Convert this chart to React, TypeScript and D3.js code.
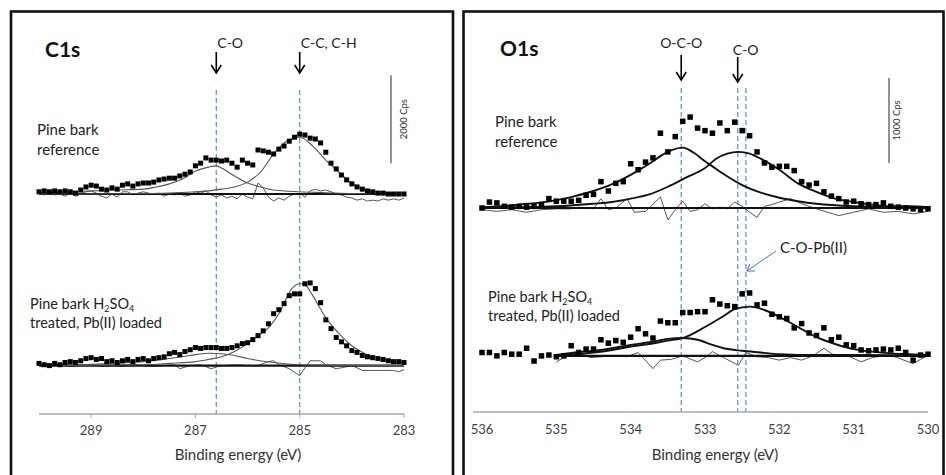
import React from 'react';
import * as d3 from 'd3';

type Pt = [number, number];

// binding energy (eV), intensity above the spectrum baseline (cps)
const c1sRefData: Pt[] = [
  [290.0, 50], [289.9, 70], [289.8, 50], [289.7, 70], [289.6, 50], [289.5, 70], [289.4, 50], [289.3, 20],
  [289.2, 90], [289.1, 160], [289.0, 200], [288.9, 180], [288.8, 110], [288.7, 90], [288.6, 140], [288.5, 110],
  [288.4, 200], [288.3, 230], [288.2, 180], [288.1, 230], [288.0, 250], [287.9, 250], [287.8, 270], [287.7, 320],
  [287.6, 340], [287.5, 360], [287.4, 360], [287.3, 410], [287.2, 450], [287.1, 500], [287.0, 640], [286.9, 700],
  [286.8, 820], [286.7, 770], [286.6, 770], [286.5, 750], [286.4, 770], [286.3, 700], [286.2, 610], [286.1, 770],
  [286.0, 700], [285.9, 660], [285.8, 1000], [285.7, 980], [285.6, 950], [285.5, 910], [285.4, 1020], [285.3, 1090],
  [285.2, 1200], [285.1, 1290], [285.0, 1360], [284.9, 1340], [284.8, 1270], [284.7, 1250], [284.6, 1160], [284.5, 950],
  [284.4, 700], [284.3, 570], [284.2, 430], [284.1, 320], [284.0, 230], [283.9, 160], [283.8, 110], [283.7, 70],
  [283.6, 50], [283.5, 20], [283.4, 20], [283.3, 0], [283.2, 0], [283.1, 0], [283.0, 0],
];
const c1sRefFitCC: Pt[] = [
  [283.0, 10], [283.25, 20], [283.5, 50], [283.75, 110], [284.0, 250], [284.25, 500], [284.5, 770], [284.75, 1090],
  [285.0, 1290], [285.25, 1200], [285.5, 910], [285.75, 500], [286.0, 270], [286.25, 160], [286.5, 110], [286.75, 70],
  [287.0, 50], [287.5, 20], [288.0, 10], [289.0, 0], [290.0, 0],
];
const c1sRefFitCO: Pt[] = [
  [283.0, 0], [284.0, 10], [284.5, 30], [285.0, 50], [285.5, 90], [285.75, 160], [286.0, 250], [286.25, 410],
  [286.5, 590], [286.6, 640], [286.75, 610], [287.0, 520], [287.25, 340], [287.5, 230], [287.75, 160], [288.0, 110],
  [288.5, 90], [289.0, 70], [289.5, 50], [290.0, 20],
];
const c1sRefResidual: Pt[] = [
  [290.0, 0], [289.9, -20], [289.8, 20], [289.7, -20], [289.6, 0], [289.5, -50], [289.4, 20], [289.3, -50],
  [289.2, 0], [289.1, 50], [289.0, 70], [288.9, 20], [288.8, -50], [288.7, -90], [288.6, 0], [288.5, -70],
  [288.4, 50], [288.3, 50], [288.2, -20], [288.1, 20], [288.0, 50], [287.9, 20], [287.8, 0], [287.7, 20],
  [287.6, -50], [287.5, 0], [287.4, -20], [287.3, 20], [287.2, -50], [287.1, -20], [287.0, 50], [286.9, 20],
  [286.8, 70], [286.7, -20], [286.6, -70], [286.5, -20], [286.4, -90], [286.3, -50], [286.2, -110], [286.1, 0],
  [286.0, -70], [285.9, -110], [285.8, 250], [285.7, 140], [285.6, -70], [285.5, -160], [285.4, -90], [285.3, -140],
  [285.2, -50], [285.1, 0], [285.0, 20], [284.9, -70], [284.8, 70], [284.7, 110], [284.6, 70], [284.5, 90],
  [284.4, 50], [284.3, 0], [284.2, -20], [284.1, -70], [284.0, -90], [283.9, -140], [283.8, -110], [283.7, -160],
  [283.6, -140], [283.5, -160], [283.4, -110], [283.3, -140], [283.2, -110], [283.1, -140], [283.0, -90],
];

const c1sPbData: Pt[] = [
  [290.0, 50], [289.9, 20], [289.8, 0], [289.7, 50], [289.6, 20], [289.5, 70], [289.4, 90], [289.3, 70],
  [289.2, 110], [289.1, 160], [289.0, 180], [288.9, 140], [288.8, 160], [288.7, 90], [288.6, 110], [288.5, 70],
  [288.4, 110], [288.3, 140], [288.2, 90], [288.1, 140], [288.0, 160], [287.9, 110], [287.8, 160], [287.7, 180],
  [287.6, 200], [287.5, 270], [287.4, 300], [287.3, 250], [287.2, 320], [287.1, 360], [287.0, 410], [286.9, 390],
  [286.8, 410], [286.7, 410], [286.6, 410], [286.5, 390], [286.4, 390], [286.3, 410], [286.2, 450], [286.1, 500],
  [286.0, 520], [285.9, 590], [285.8, 680], [285.7, 790], [285.6, 950], [285.5, 1180], [285.4, 1270], [285.3, 1410],
  [285.2, 1590], [285.1, 1630], [285.0, 1630], [284.9, 1860], [284.8, 1880], [284.7, 1750], [284.6, 1430], [284.5, 1040],
  [284.4, 840], [284.3, 640], [284.2, 540], [284.1, 450], [284.0, 340], [283.9, 300], [283.8, 230], [283.7, 200],
  [283.6, 180], [283.5, 160], [283.4, 140], [283.3, 110], [283.2, 90], [283.1, 90], [283.0, 70],
];
const c1sPbFitCC: Pt[] = [
  [283.0, 70], [283.25, 110], [283.5, 160], [283.75, 270], [284.0, 450], [284.25, 730], [284.5, 1090], [284.75, 1590],
  [284.9, 1840], [285.0, 1860], [285.15, 1750], [285.4, 1180], [285.6, 860], [285.8, 680], [286.0, 500], [286.25, 320],
  [286.5, 200], [286.75, 140], [287.0, 90], [287.5, 50], [288.0, 20], [289.0, 10], [290.0, 0],
];
const c1sPbFitCO: Pt[] = [
  [283.0, 0], [284.5, 10], [285.0, 20], [285.5, 70], [286.0, 160], [286.25, 230], [286.5, 270], [286.7, 280],
  [287.0, 250], [287.25, 200], [287.5, 160], [288.0, 90], [288.5, 60], [289.0, 30], [290.0, 10],
];
const c1sPbResidual: Pt[] = [
  [290.0, 0], [289.8, -20], [289.6, 20], [289.4, -20], [289.2, 0], [289.0, 20], [288.8, -20], [288.6, 0],
  [288.4, -20], [288.2, 20], [288.0, 0], [287.8, -20], [287.6, 0], [287.4, 20], [287.3, -70], [287.1, 0],
  [286.9, 20], [286.7, -70], [286.5, 0], [286.2, 20], [286.0, 0], [285.8, 0], [285.6, 90], [285.5, 110],
  [285.4, 20], [285.2, -70], [285.0, -230], [284.9, -50], [284.8, 110], [284.7, 110], [284.6, 110], [284.5, 20],
  [284.3, -70], [284.2, -50], [284.0, 0], [283.9, -50], [283.8, -110], [283.6, -110], [283.4, -110], [283.2, -110],
  [283.1, -140], [283.0, -90],
];

const o1sRefData: Pt[] = [
  [536.0, 0], [535.9, 70], [535.8, 60], [535.7, 20], [535.6, 10], [535.5, 20], [535.4, 10], [535.3, 20],
  [535.2, 40], [535.1, 110], [535.0, 80], [534.9, 80], [534.8, 80], [534.7, 90], [534.6, 150], [534.5, 160],
  [534.4, 310], [534.3, 200], [534.2, 290], [534.1, 310], [534.0, 520], [533.9, 450], [533.8, 540], [533.7, 590],
  [533.6, 880], [533.5, 660], [533.4, 840], [533.3, 1020], [533.2, 1070], [533.1, 940], [533.0, 910], [532.9, 880],
  [532.8, 1000], [532.7, 910], [532.6, 1010], [532.5, 910], [532.4, 850], [532.3, 660], [532.2, 530], [532.1, 480],
  [532.0, 490], [531.9, 490], [531.8, 440], [531.7, 310], [531.6, 270], [531.5, 290], [531.4, 190], [531.3, 140],
  [531.2, 110], [531.1, 70], [531.0, 80], [530.9, 50], [530.8, 40], [530.7, 40], [530.6, 60], [530.5, 20],
  [530.4, 10], [530.3, 0], [530.2, -10], [530.1, -20], [530.0, -10],
];
const o1sRefFitOCO: Pt[] = [
  [530.0, 0], [530.5, 10], [531.0, 20], [531.5, 50], [531.75, 80], [532.0, 120], [532.25, 180], [532.5, 270],
  [532.75, 400], [532.9, 490], [533.0, 550], [533.15, 650], [533.3, 710], [533.45, 680], [533.6, 610], [533.75, 520],
  [534.0, 390], [534.25, 280], [534.5, 200], [534.75, 140], [535.0, 90], [535.25, 60], [535.5, 40], [535.75, 20],
  [536.0, 10],
];
const o1sRefFitCO: Pt[] = [
  [530.0, 10], [530.25, 20], [530.5, 20], [530.75, 40], [531.0, 70], [531.25, 110], [531.5, 190], [531.75, 290],
  [532.0, 450], [532.25, 580], [532.4, 640], [532.55, 660], [532.7, 640], [532.85, 580], [533.0, 470], [533.25, 360],
  [533.5, 250], [533.75, 160], [534.0, 110], [534.25, 70], [534.5, 50], [535.0, 20], [535.5, 10], [536.0, 10],
];
const o1sRefResidual: Pt[] = [
  [536.0, -20], [535.8, -40], [535.6, -20], [535.4, -50], [535.2, -20], [535.0, -10], [534.8, -10], [534.7, 10],
  [534.6, 0], [534.5, -10], [534.4, 110], [534.3, -20], [534.2, 0], [534.05, 110], [533.95, -50], [533.8, -40],
  [533.6, 130], [533.5, -140], [533.4, -20], [533.3, 80], [533.2, -40], [533.1, -20], [533.0, 50], [532.9, -10],
  [532.8, 10], [532.7, -10], [532.6, 70], [532.5, 20], [532.4, -50], [532.3, -110], [532.2, 20], [532.1, 40],
  [532.0, 70], [531.85, 110], [531.7, 50], [531.5, -10], [531.35, -50], [531.2, -90], [531.0, -50], [530.8, -10],
  [530.6, -50], [530.4, -40], [530.2, -70], [530.0, -40],
];

const o1sPbData: Pt[] = [
  [536.0, 40], [535.9, 40], [535.8, 0], [535.7, 40], [535.6, 20], [535.5, 20], [535.4, 90], [535.3, -60],
  [535.2, 0], [535.1, 10], [535.0, -10], [534.9, 0], [534.8, 120], [534.7, 40], [534.6, 80], [534.5, 80],
  [534.4, 190], [534.3, 150], [534.2, 180], [534.1, 160], [534.0, 220], [533.9, 320], [533.8, 260], [533.7, 210],
  [533.6, 410], [533.5, 390], [533.4, 390], [533.3, 510], [533.2, 510], [533.1, 520], [533.0, 520], [532.9, 660],
  [532.8, 610], [532.7, 590], [532.6, 580], [532.5, 730], [532.4, 740], [532.3, 600], [532.2, 620], [532.1, 490],
  [532.0, 460], [531.9, 440], [531.8, 330], [531.7, 380], [531.6, 270], [531.5, 240], [531.4, 330], [531.3, 190],
  [531.2, 220], [531.1, 130], [531.0, 120], [530.9, 70], [530.8, 60], [530.7, 70], [530.6, 80], [530.5, 70],
  [530.4, 90], [530.3, 40], [530.2, -50], [530.1, 10], [530.0, 20],
];
const o1sPbFitCOPb: Pt[] = [
  [535.0, 10], [534.75, 20], [534.5, 40], [534.25, 70], [534.0, 110], [533.75, 140], [533.5, 180], [533.3, 210],
  [533.0, 340], [532.75, 470], [532.6, 550], [532.4, 580], [532.2, 540], [532.0, 460], [531.75, 340], [531.5, 220],
  [531.25, 140], [531.0, 80], [530.75, 50], [530.5, 30], [530.25, 20], [530.0, 10],
];
const o1sPbFitOCO: Pt[] = [
  [535.0, 10], [534.75, 40], [534.5, 60], [534.25, 90], [534.0, 130], [533.75, 160], [533.5, 200], [533.3, 210],
  [533.1, 190], [532.9, 130], [532.75, 90], [532.5, 60], [532.25, 40], [532.0, 20], [531.5, 10], [531.0, 10],
  [530.0, 0],
];
const o1sPbResidual: Pt[] = [
  [535.0, -70], [534.9, -20], [534.7, 40], [534.55, -20], [534.4, -10], [534.2, 0], [534.05, -10], [533.9, 40],
  [533.7, -150], [533.6, -50], [533.45, -40], [533.3, 0], [533.1, -70], [533.0, -20], [532.9, 50], [532.75, -20],
  [532.55, -110], [532.45, 40], [532.3, -10], [532.15, -20], [532.0, -50], [531.85, -20], [531.7, -50], [531.55, 0],
  [531.4, 90], [531.25, 0], [531.1, 10], [530.9, -70], [530.75, -20], [530.6, 0], [530.45, -10], [530.2, -90],
  [530.1, -40], [530.0, 0],
];

// vertical offsets of the stacked spectra (cps)
const c1sOffsets = { ref: 5000, pb: 1100 };
const o1sOffsets = { ref: 2400, pb: 660 };

const c1sTicks = [289, 287, 285, 283];
const o1sTicks = [536, 535, 534, 533, 532, 531, 530];

const c1sPeaks = [286.6, 285.0];
const c1sPeakLabels = ['C-O', 'C-C, C-H'];
const o1sPeaks = [533.32, 532.56];
const o1sPeakLabels = ['O-C-O', 'C-O'];
const o1sPbPeak = 532.45;

const FONT = 'Lato, "Open Sans", sans-serif';
const DASH = '#5b8fc9';

type Spec = {
  data: Pt[];
  fits: Pt[][];
  residual: Pt[];
  offset: number;
  baseFrom: number;
  baseTo: number;
};

const Spectrum = ({ s, x, y, fitColor, fitWidth, size }: any) => {
  const sp: Spec = s;
  const line = d3
    .line<Pt>()
    .x((d) => x(d[0]))
    .y((d) => y(d[1] + sp.offset));
  const smooth = d3
    .line<Pt>()
    .x((d) => x(d[0]))
    .y((d) => y(d[1] + sp.offset))
    .curve(d3.curveMonotoneX);
  const sortFit = (f: Pt[]) => [...f].sort((a, b) => a[0] - b[0]);
  return (
    <g>
      <path d={line(sp.residual) || ''} fill="none" stroke="#555" strokeWidth={1} />
      <line
        x1={x(sp.baseFrom)}
        x2={x(sp.baseTo)}
        y1={y(sp.offset)}
        y2={y(sp.offset)}
        stroke="#111"
        strokeWidth={2.2}
      />
      {sp.fits.map((f, i) => (
        <path key={i} d={smooth(sortFit(f)) || ''} fill="none" stroke={fitColor} strokeWidth={fitWidth} />
      ))}
      {sp.data.map((d, i) => (
        <rect
          key={i}
          x={x(d[0]) - size / 2}
          y={y(d[1] + sp.offset) - size / 2}
          width={size}
          height={size}
          fill="#000"
        />
      ))}
    </g>
  );
};

const DownArrow = ({ cx, y1, y2 }: { cx: number; y1: number; y2: number }) => (
  <g stroke="#000" strokeWidth={1.6} fill="none">
    <line x1={cx} x2={cx} y1={y1} y2={y2} />
    <polyline points={`${cx - 5},${y2 - 8} ${cx},${y2} ${cx + 5},${y2 - 8}`} />
  </g>
);

// two-line sample label with H2SO4 subscripts
const PbLabel = ({ x, y }: { x: number; y: number }) => (
  <g fontSize={14.5} fill="#222">
    <text x={x} y={y}>
      Pine bark H<tspan fontSize={9} dy={2.5}>2</tspan>
      <tspan dy={-2.5}>SO</tspan>
      <tspan fontSize={9} dy={2.5}>4</tspan>
    </text>
    <text x={x} y={y + 19}>treated, Pb(II) loaded</text>
  </g>
);

const App = () => {
  const W = 946;
  const H = 475;

  const xL = d3.scaleLinear().domain([290, 283]).range([39, 404]);
  const yL = d3.scaleLinear().domain([0, 2000]).range([414, 326]);
  const xR = d3.scaleLinear().domain([536, 530]).range([482, 928]);
  const yR = d3.scaleLinear().domain([0, 1000]).range([412, 327]);

  const c1sRef: Spec = {
    data: c1sRefData, fits: [c1sRefFitCC, c1sRefFitCO], residual: c1sRefResidual,
    offset: c1sOffsets.ref, baseFrom: 290, baseTo: 283,
  };
  const c1sPb: Spec = {
    data: c1sPbData, fits: [c1sPbFitCC, c1sPbFitCO], residual: c1sPbResidual,
    offset: c1sOffsets.pb, baseFrom: 290, baseTo: 283,
  };
  const o1sRef: Spec = {
    data: o1sRefData, fits: [o1sRefFitOCO, o1sRefFitCO], residual: o1sRefResidual,
    offset: o1sOffsets.ref, baseFrom: 536, baseTo: 530,
  };
  const o1sPb: Spec = {
    data: o1sPbData, fits: [o1sPbFitCOPb, o1sPbFitOCO], residual: o1sPbResidual,
    offset: o1sOffsets.pb, baseFrom: 535, baseTo: 530,
  };

  const axisL = yL(0);
  const axisR = yR(0);

  return (
    <svg
      width={W}
      height={H}
      style={{ position: 'absolute', left: 0, top: 0, background: '#fff' }}
      fontFamily={FONT}
    >
      <rect x={0} y={0} width={W} height={H} fill="#fff" />
      {/* panel frames */}
      <rect x={11} y={11.5} width={442} height={480} fill="none" stroke="#111" strokeWidth={2.6} />
      <rect x={463.5} y={11.5} width={480} height={480} fill="none" stroke="#111" strokeWidth={2.6} />

      {/* ---------- C1s panel ---------- */}
      <text x={45} y={57} fontSize={21} fontWeight="bold" fill="#111">C1s</text>
      {c1sPeaks.map((p) => (
        <line key={p} x1={xL(p)} x2={xL(p)} y1={90} y2={axisL} stroke={DASH} strokeWidth={1.2} strokeDasharray="5,3" />
      ))}
      {c1sPeaks.map((p, i) => (
        <g key={'a' + p}>
          <text x={xL(p) + 1} y={48} fontSize={14} fill="#222">{c1sPeakLabels[i]}</text>
          <DownArrow cx={xL(p)} y1={52} y2={73} />
        </g>
      ))}
      <Spectrum s={c1sRef} x={xL} y={yL} fitColor="#555" fitWidth={1.1} size={5} />
      <Spectrum s={c1sPb} x={xL} y={yL} fitColor="#555" fitWidth={1.1} size={5} />

      <text x={37} y={135} fontSize={15} fill="#222">Pine bark</text>
      <text x={37} y={155} fontSize={15} fill="#222">reference</text>
      <PbLabel x={30} y={309} />

      {/* scale bar */}
      <line x1={391} x2={391} y1={yL(5700)} y2={yL(7700)} stroke="#666" strokeWidth={1.4} />
      <text
        transform={`translate(406.5, ${yL(6700)}) rotate(-90)`}
        textAnchor="middle"
        fontSize={9.5}
        fill="#333"
      >
        2000 Cps
      </text>

      {/* x axis */}
      <line x1={xL(290)} x2={xL(283)} y1={axisL} y2={axisL} stroke="#a6a6a6" strokeWidth={1.5} />
      {c1sTicks.map((t) => (
        <g key={t}>
          <line x1={xL(t)} x2={xL(t)} y1={axisL} y2={axisL + 4} stroke="#a6a6a6" strokeWidth={1} />
          <text x={xL(t)} y={435} textAnchor="middle" fontSize={13} fill="#404040">{t}</text>
        </g>
      ))}
      <text x={238} y={460} textAnchor="middle" fontSize={15} fill="#333">Binding energy (eV)</text>

      {/* ---------- O1s panel ---------- */}
      <text x={500} y={56} fontSize={21} fontWeight="bold" fill="#111">O1s</text>
      {[...o1sPeaks, o1sPbPeak].map((p) => (
        <line key={p} x1={xR(p)} x2={xR(p)} y1={88} y2={axisR} stroke={DASH} strokeWidth={1.2} strokeDasharray="5,3" />
      ))}
      <text x={xR(o1sPeaks[0])} y={48} textAnchor="middle" fontSize={14} fill="#222">{o1sPeakLabels[0]}</text>
      <DownArrow cx={xR(o1sPeaks[0])} y1={55} y2={80} />
      <text x={xR(o1sPeaks[1]) - 5} y={55} fontSize={14} fill="#222">{o1sPeakLabels[1]}</text>
      <DownArrow cx={xR(o1sPeaks[1])} y1={57} y2={82} />

      <Spectrum s={o1sRef} x={xR} y={yR} fitColor="#111" fitWidth={1.9} size={5.5} />
      <Spectrum s={o1sPb} x={xR} y={yR} fitColor="#111" fitWidth={1.9} size={5.5} />

      <text x={495} y={127} fontSize={15} fill="#222">Pine bark</text>
      <text x={495} y={147} fontSize={15} fill="#222">reference</text>
      <PbLabel x={488} y={302} />

      {/* C-O-Pb(II) pointer */}
      <text x={780} y={253} fontSize={15} fill="#222">C-O-Pb(II)</text>
      <g stroke="#4472c4" strokeWidth={1} fill="none">
        <line x1={776} y1={251} x2={xR(o1sPbPeak) + 1} y2={271} />
        <polyline points={`${xR(o1sPbPeak) + 4},${264} ${xR(o1sPbPeak) + 1},${271} ${xR(o1sPbPeak) + 9},${271}`} />
      </g>

      {/* scale bar */}
      <line x1={889} x2={889} y1={yR(2930)} y2={yR(3930)} stroke="#666" strokeWidth={1.4} />
      <text
        transform={`translate(900, ${yR(3430)}) rotate(-90)`}
        textAnchor="middle"
        fontSize={9.5}
        fill="#333"
      >
        1000 Cps
      </text>

      {/* x axis */}
      <line x1={xR(536.12)} x2={xR(530)} y1={axisR} y2={axisR} stroke="#a6a6a6" strokeWidth={1.5} />
      {o1sTicks.map((t) => (
        <text key={t} x={xR(t)} y={434} textAnchor="middle" fontSize={13} fill="#404040">{t}</text>
      ))}
      <text x={715} y={460} textAnchor="middle" fontSize={15} fill="#333">Binding energy (eV)</text>
    </svg>
  );
};

export default App;
